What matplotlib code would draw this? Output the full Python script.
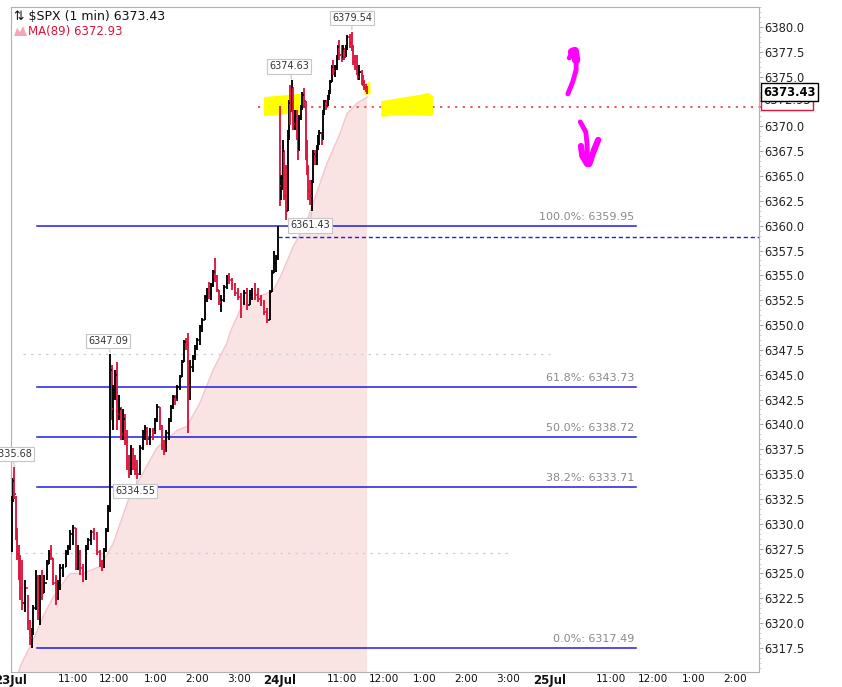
import matplotlib
matplotlib.use('Agg')
import matplotlib.pyplot as plt
from matplotlib.patches import Polygon

W, H = 842, 687

# bar index = minutes since 9:30 on 23 Jul, 390 bars per session, no gaps
bar_t = [1, 3, 5, 7, 9, 11, 13, 16, 20, 24, 28, 30, 32, 36, 39, 42, 45, 48, 52, 55,
         58, 61, 65, 68, 71, 75, 80, 83, 86, 90, 94, 97, 100, 104, 109, 112, 116, 120, 125, 129,
         132, 135, 138, 141, 144, 146, 148, 151, 154, 157, 160, 163, 165, 168, 171, 174, 177, 180, 183, 187,
         191, 194, 197, 201, 206, 209, 212, 216, 219, 222, 225, 229, 232, 235, 238, 241, 245, 248, 251, 254,
         257, 260, 264, 267, 270, 274, 277, 281, 284, 287, 290, 293, 296, 299, 302, 305, 309, 313, 316, 320,
         325, 329, 333, 338, 342, 346, 349, 354, 358, 362, 367, 371, 375, 378, 381, 384, 387,
         390, 392, 394, 396, 398, 401, 403, 405, 407, 409, 411, 414, 416, 418, 420, 422, 425, 427, 429,
         431, 434, 436, 438, 440, 443, 445, 447, 450, 452, 454, 456, 459, 461, 463, 465, 467, 470, 472, 474,
         476, 479, 481, 483, 485, 487, 491, 494, 496, 498, 501, 503, 505, 508, 510, 512, 514, 516]
bar_h = [6332.8, 6334.6, 6335.68, 6332.8, 6329.6, 6327.9, 6326.9, 6326.4, 6324.3, 6322.8, 6320.3, 6319.5, 6321.8, 6325.3, 6324.8, 6324.8, 6325.3, 6324.8, 6326.4, 6327.4,
         6327.9, 6326.6, 6324.8, 6324.3, 6325.9, 6325.9, 6327.4, 6327.9, 6329.4, 6329.9, 6329.6, 6327.9, 6327.4, 6325.9, 6327.9, 6328.6, 6329.4, 6329.6, 6329.2, 6327.4,
         6326.4, 6327.6, 6329.6, 6331.9, 6347.09, 6346.0, 6344.0, 6345.5, 6346.3, 6343.0, 6341.8, 6341.5, 6341.0, 6339.4, 6336.9, 6337.9, 6337.6, 6336.9, 6336.4, 6337.9,
         6339.4, 6339.9, 6339.7, 6339.6, 6339.6, 6340.6, 6342.1, 6341.8, 6339.9, 6338.4, 6339.4, 6340.6, 6342.0, 6343.0, 6343.0, 6344.0, 6345.0, 6346.5, 6348.5, 6348.7,
         6349.2, 6346.5, 6347.0, 6348.0, 6348.7, 6350.0, 6350.7, 6353.0, 6353.7, 6354.3, 6354.2, 6355.5, 6356.7, 6355.0, 6353.5, 6353.0, 6354.0, 6355.0, 6355.2, 6354.7,
         6354.2, 6353.7, 6353.2, 6353.5, 6353.7, 6353.5, 6353.7, 6354.2, 6353.7, 6353.0, 6352.5, 6351.7, 6353.5, 6355.5, 6357.5, 6357.0, 6359.95,
         6372.0, 6365.1, 6368.6, 6367.6, 6366.1, 6369.6, 6372.7, 6374.2, 6374.63, 6374.0, 6371.6, 6371.6, 6370.6, 6371.1, 6372.1, 6373.5, 6373.9, 6372.5, 6368.6,
         6366.1, 6364.6, 6364.6, 6367.6, 6367.6, 6368.1, 6369.1, 6369.6, 6369.4, 6371.6, 6372.7, 6372.7, 6373.2, 6373.7, 6374.7, 6376.2, 6376.7, 6376.2, 6377.2, 6378.2,
         6378.7, 6378.2, 6378.2, 6377.9, 6378.2, 6379.2, 6379.3, 6379.54, 6378.2, 6377.2, 6377.2, 6376.2, 6376.2, 6375.7, 6375.2, 6374.7, 6374.3, 6374.1]
bar_l = [6327.2, 6332.2, 6332.5, 6328.4, 6326.4, 6324.3, 6322.3, 6321.3, 6321.1, 6319.3, 6317.8, 6317.49, 6318.8, 6321.3, 6320.3, 6319.8, 6322.3, 6323.0, 6324.3, 6325.9,
         6326.4, 6323.8, 6321.8, 6322.3, 6323.3, 6324.6, 6325.6, 6326.9, 6327.4, 6327.9, 6325.3, 6325.3, 6324.8, 6324.1, 6324.3, 6327.4, 6327.9, 6328.4, 6326.9, 6325.6,
         6325.2, 6325.5, 6327.2, 6329.2, 6331.2, 6340.4, 6339.4, 6342.5, 6339.4, 6340.4, 6338.4, 6338.4, 6337.9, 6335.4, 6334.6, 6334.9, 6335.4, 6334.9, 6334.55, 6334.9,
         6337.4, 6338.4, 6337.9, 6337.9, 6338.4, 6339.0, 6340.2, 6339.4, 6337.4, 6336.9, 6337.2, 6338.4, 6340.2, 6341.5, 6342.0, 6342.4, 6343.5, 6344.8, 6346.3, 6347.5,
         6339.1, 6342.5, 6345.3, 6346.5, 6347.5, 6348.0, 6349.3, 6350.5, 6352.3, 6352.6, 6352.5, 6353.8, 6354.3, 6353.3, 6352.0, 6351.3, 6352.3, 6353.6, 6354.1, 6353.5,
         6352.9, 6352.5, 6350.7, 6352.0, 6351.5, 6352.0, 6352.5, 6352.5, 6352.3, 6351.9, 6351.0, 6350.2, 6350.5, 6353.3, 6355.2, 6355.3, 6356.5,
         6362.0, 6362.6, 6363.6, 6362.6, 6360.57, 6361.5, 6368.6, 6370.1, 6371.4, 6369.6, 6369.6, 6368.6, 6366.6, 6367.5, 6370.6, 6371.6, 6371.8, 6366.6, 6365.1,
         6362.6, 6362.1, 6361.43, 6364.3, 6366.1, 6366.1, 6367.6, 6368.1, 6368.1, 6368.6, 6371.1, 6371.6, 6372.0, 6372.7, 6373.3, 6374.5, 6375.2, 6375.0, 6375.7, 6376.7,
         6376.7, 6376.5, 6376.7, 6376.7, 6377.0, 6377.7, 6377.9, 6377.6, 6376.2, 6375.7, 6375.2, 6374.7, 6374.7, 6374.2, 6374.1, 6373.7, 6373.5, 6373.3]
bar_c = [6332.5, 6334.3, 6333.0, 6329.0, 6327.0, 6325.0, 6323.5, 6322.0, 6323.5, 6320.0, 6318.5, 6319.0, 6321.5, 6324.5, 6321.0, 6324.0, 6323.0, 6324.0, 6326.0, 6327.0,
         6326.6, 6324.0, 6322.5, 6324.0, 6325.5, 6325.6, 6327.2, 6327.7, 6329.0, 6329.6, 6326.0, 6327.0, 6325.5, 6325.0, 6327.5, 6328.4, 6329.2, 6329.0, 6327.2, 6326.0,
         6325.6, 6327.4, 6329.3, 6331.6, 6345.5, 6341.5, 6343.5, 6345.0, 6341.0, 6341.5, 6339.0, 6340.5, 6338.3, 6336.0, 6335.5, 6337.5, 6336.0, 6335.5, 6335.0, 6337.6,
         6339.2, 6339.6, 6338.5, 6339.3, 6339.2, 6340.4, 6341.8, 6339.8, 6337.8, 6337.3, 6339.1, 6340.3, 6341.8, 6342.8, 6342.5, 6343.8, 6344.8, 6346.3, 6348.3, 6348.0,
         6344.0, 6345.8, 6346.8, 6347.8, 6348.5, 6349.8, 6350.5, 6352.8, 6353.5, 6353.2, 6354.0, 6355.3, 6354.8, 6353.5, 6352.3, 6352.5, 6353.8, 6354.8, 6354.5, 6354.0,
         6353.2, 6352.8, 6352.2, 6353.2, 6352.0, 6353.0, 6353.5, 6353.0, 6352.6, 6352.2, 6351.3, 6350.5, 6353.3, 6355.2, 6356.2, 6356.8, 6358.91,
         6364.0, 6364.8, 6367.5, 6363.0, 6361.5, 6369.2, 6372.3, 6371.5, 6374.0, 6370.2, 6371.0, 6369.0, 6367.5, 6370.8, 6371.9, 6373.2, 6372.5, 6367.0, 6365.6,
         6363.5, 6363.0, 6364.3, 6367.2, 6367.0, 6367.8, 6368.8, 6369.3, 6368.6, 6371.4, 6372.5, 6372.0, 6373.0, 6373.5, 6374.5, 6376.0, 6375.6, 6376.0, 6377.0, 6378.0,
         6377.2, 6376.8, 6377.8, 6377.0, 6377.9, 6379.0, 6378.4, 6378.0, 6376.5, 6376.0, 6375.8, 6375.0, 6375.5, 6374.5, 6374.3, 6374.0, 6373.6, 6373.43]
first_open = 6327.5
day2_open = 6368.6
last_price = 6373.43

# MA(89)
ma_t = [0, 13, 32, 46, 61, 81, 86, 104, 129, 148, 170, 183, 212, 241, 255, 274, 293, 313, 317,
        332, 346, 371, 380, 390, 409, 427, 433, 458, 477, 487, 501, 516]
ma_v = [6312.0, 6315.6, 6318.3, 6320.6, 6322.6, 6324.6, 6325.0, 6325.0, 6325.7, 6328.0, 6332.4, 6334.1,
        6337.7, 6339.4, 6339.8, 6342.2, 6345.5, 6348.2, 6349.2, 6351.5, 6352.5, 6353.2, 6353.5, 6354.8,
        6357.9, 6360.2, 6361.3, 6366.3, 6369.3, 6371.3, 6372.3, 6372.93]
ma_last = 6372.93

fib_pct = ['100.0%', '61.8%', '50.0%', '38.2%', '0.0%']
fib_lvl = [6359.95, 6343.73, 6338.72, 6333.71, 6317.49]

# callouts: text, bar, price, offset (pt)
call_txt = ['6379.54', '6374.63', '6347.09', '6335.68', '6334.55', '6361.43']
call_t = [494, 407, 144, 5, 183, 436]
call_p = [6379.54, 6374.63, 6347.09, 6335.68, 6334.55, 6361.43]
call_dx = [0, -2, -1.5, -1.5, -1.5, -1.5]
call_dy = [10, 10, 9.5, 9.5, -8.8, -10]

prev_close = 6358.91
mark_lvl = 6371.95
grey_lvl = [6347.09, 6327.1]
grey_span = [(17, 781), (-1, 723)]

xtick_pos = [0, 90, 150, 210, 270, 330, 390, 480, 540, 600, 660, 720, 780, 870, 930, 990, 1050]
xtick_lab = ['23Jul', '11:00', '12:00', '1:00', '2:00', '3:00', '24Jul', '11:00', '12:00', '1:00',
             '2:00', '3:00', '25Jul', '11:00', '12:00', '1:00', '2:00']

# hand-drawn marks (bar, price)
hl1_t = [368, 419, 420, 368]
hl1_p = [6372.85, 6373.16, 6371.45, 6371.14]
hl2_t = [538, 564, 593, 604, 610, 610, 579, 557, 538]
hl2_p = [6372.45, 6372.75, 6373.06, 6373.26, 6373.0, 6371.14, 6371.24, 6371.24, 6371.04]
hl3_t = [512, 519, 520, 514]
hl3_p = [6374.16, 6374.36, 6373.36, 6373.26]
up_t = [807, 814, 819, 819, 817, 813, 809]
up_p = [6373.26, 6374.47, 6375.67, 6376.68, 6377.58, 6377.48, 6376.88]
dn_t = [825, 833, 835, 835]
dn_p = [6370.44, 6369.43, 6368.12, 6366.21]
dnl_t = [826, 828, 835]
dnl_p = [6368.02, 6367.02, 6366.21]
dnr_t = [851, 845, 838]
dnr_p = [6368.63, 6367.62, 6366.21]

plt.rcParams['font.family'] = ['DejaVu Sans']
fig = plt.figure(figsize=(W / 100, H / 100), dpi=100)
ax = fig.add_axes([11 / W, 1 - 672 / H, 748 / W, 665 / H])
ax.set_xlim(0, 1084)
ax.set_ylim(6315.08, 6382.01)

# MA area
ax.fill_between(ma_t, ma_v, 6300, color='#f9e3e3', lw=0, zorder=1)
ax.plot(ma_t, ma_v, color='#f3c6cd', lw=1.0, zorder=1.5)

# reference lines
for lv, (a, b) in zip(grey_lvl, grey_span):
    ax.plot([a, b], [lv, lv], color='#cfcfcf', lw=0.9, ls=(0, (2, 4)), zorder=1.2)
ax.plot([387, 1084], [prev_close, prev_close], color='#2020ee', lw=1.0, ls=(0, (3, 2)), zorder=2)
ax.plot([358, 1165], [mark_lvl, mark_lvl], color='#f04848', lw=1.3, ls=(0, (1.2, 3)),
        zorder=2, clip_on=False)

for pct, lv in zip(fib_pct, fib_lvl):
    ax.plot([37, 906], [lv, lv], color='#1c1ce8', lw=1.1, zorder=2)
    ax.annotate(f'{pct}: {lv:.2f}', xy=(903, lv), xytext=(0, 6.5), textcoords='offset points',
                ha='right', va='center', fontsize=8, color='#8a8a8a', zorder=3)

# highlighter and pen marks
for tt, pp in [(hl1_t, hl1_p), (hl2_t, hl2_p), (hl3_t, hl3_p)]:
    ax.add_patch(Polygon(list(zip(tt, pp)), closed=True, fc='#ffff00', ec='#ffff00',
                         lw=1.5, joinstyle='round', zorder=2.5))

# OHLC bars
opens = [first_open] + bar_c[:-1]
opens[bar_t.index(390)] = day2_open
cols = ['#000000' if c >= o else '#dc143c' for o, c in zip(opens, bar_c)]
ax.vlines(bar_t, bar_l, bar_h, colors=cols, lw=1.35, zorder=4)
ax.hlines(opens, [t - 2.0 for t in bar_t], bar_t, colors=cols, lw=1.1, zorder=4)
ax.hlines(bar_c, bar_t, [t + 2.0 for t in bar_t], colors=cols, lw=1.1, zorder=4)

for tt, pp, w in [(up_t, up_p, 3.5), (dn_t, dn_p, 3.5), (dnl_t, dnl_p, 4.5), (dnr_t, dnr_p, 4.5)]:
    ax.plot(tt, pp, color='#ff00ff', lw=w, solid_capstyle='round', solid_joinstyle='round', zorder=5)
ax.plot(up_t[3:6], up_p[3:6], color='#ff00ff', lw=6, solid_capstyle='round', zorder=5)

# callouts
for s, t, p, dx, dy in zip(call_txt, call_t, call_p, call_dx, call_dy):
    ax.annotate(s, xy=(t, p), xytext=(dx, dy), textcoords='offset points', ha='center', va='center',
                fontsize=7, color='#333333', zorder=6, annotation_clip=False,
                bbox=dict(boxstyle='square,pad=0.22', fc='white', ec='#c6c6c6', lw=0.8),
                arrowprops=dict(arrowstyle='-', color='#c6c6c6', lw=0.8, shrinkA=0, shrinkB=1))

# axes styling
for sp in ax.spines.values():
    sp.set_color('#b0b0b0')
    sp.set_linewidth(0.8)
ax.yaxis.tick_right()
yt = [6317.5 + 2.5 * k for k in range(26)]
ax.set_yticks(yt)
ax.set_yticklabels([f'{v:.1f}' for v in yt])
ax.set_yticks([6315.5 + 0.5 * k for k in range(134)], minor=True)
ax.tick_params(axis='y', which='major', length=3, width=0.6, color='#999999', pad=1,
               labelsize=8.3, labelcolor='#222222')
ax.tick_params(axis='y', which='minor', length=1.5, width=0.5, color='#bbbbbb')
ax.set_xticks(xtick_pos)
ax.set_xticklabels(xtick_lab)
ax.tick_params(axis='x', length=0, pad=1.5, labelsize=7.6, labelcolor='#111111')
for lab in ax.get_xticklabels():
    if 'Jul' in lab.get_text():
        lab.set_fontweight('bold')
        lab.set_fontsize(8.5)

# right-hand value tags
ax.annotate(f'{ma_last:.2f}', xy=(1.0, ma_last - 0.35), xycoords=('axes fraction', 'data'),
            xytext=(3, 0), textcoords='offset points', ha='left', va='center', fontsize=8.3,
            color='#222222', zorder=7, annotation_clip=False,
            bbox=dict(boxstyle='square,pad=0.22', fc='white', ec='#dc143c', lw=1.0))
ax.annotate(f'{last_price:.2f}', xy=(1.0, last_price), xycoords=('axes fraction', 'data'),
            xytext=(3, 0), textcoords='offset points', ha='left', va='center', fontsize=8.3,
            fontweight='bold', color='black', zorder=8, annotation_clip=False,
            bbox=dict(boxstyle='square,pad=0.22', fc='white', ec='black', lw=1.0))

# header
fig.text(14 / W, 1 - 17 / H, f'\u21c5 $SPX (1 min) {last_price:.2f}', fontsize=9, va='center',
         color='#111111')
fig.text(28 / W, 1 - 31 / H, f'MA(89) {ma_last:.2f}', fontsize=8.5, va='center', color='#dc143c')
icon = [(14, 36), (17, 28), (20, 32), (23, 26), (27, 36)]
fig.patches.append(Polygon([(x / W, 1 - y / H) for x, y in icon], closed=True,
                           transform=fig.transFigure, fc='#f4a6b4', ec='none'))

fig.savefig('out.png', dpi=100)
